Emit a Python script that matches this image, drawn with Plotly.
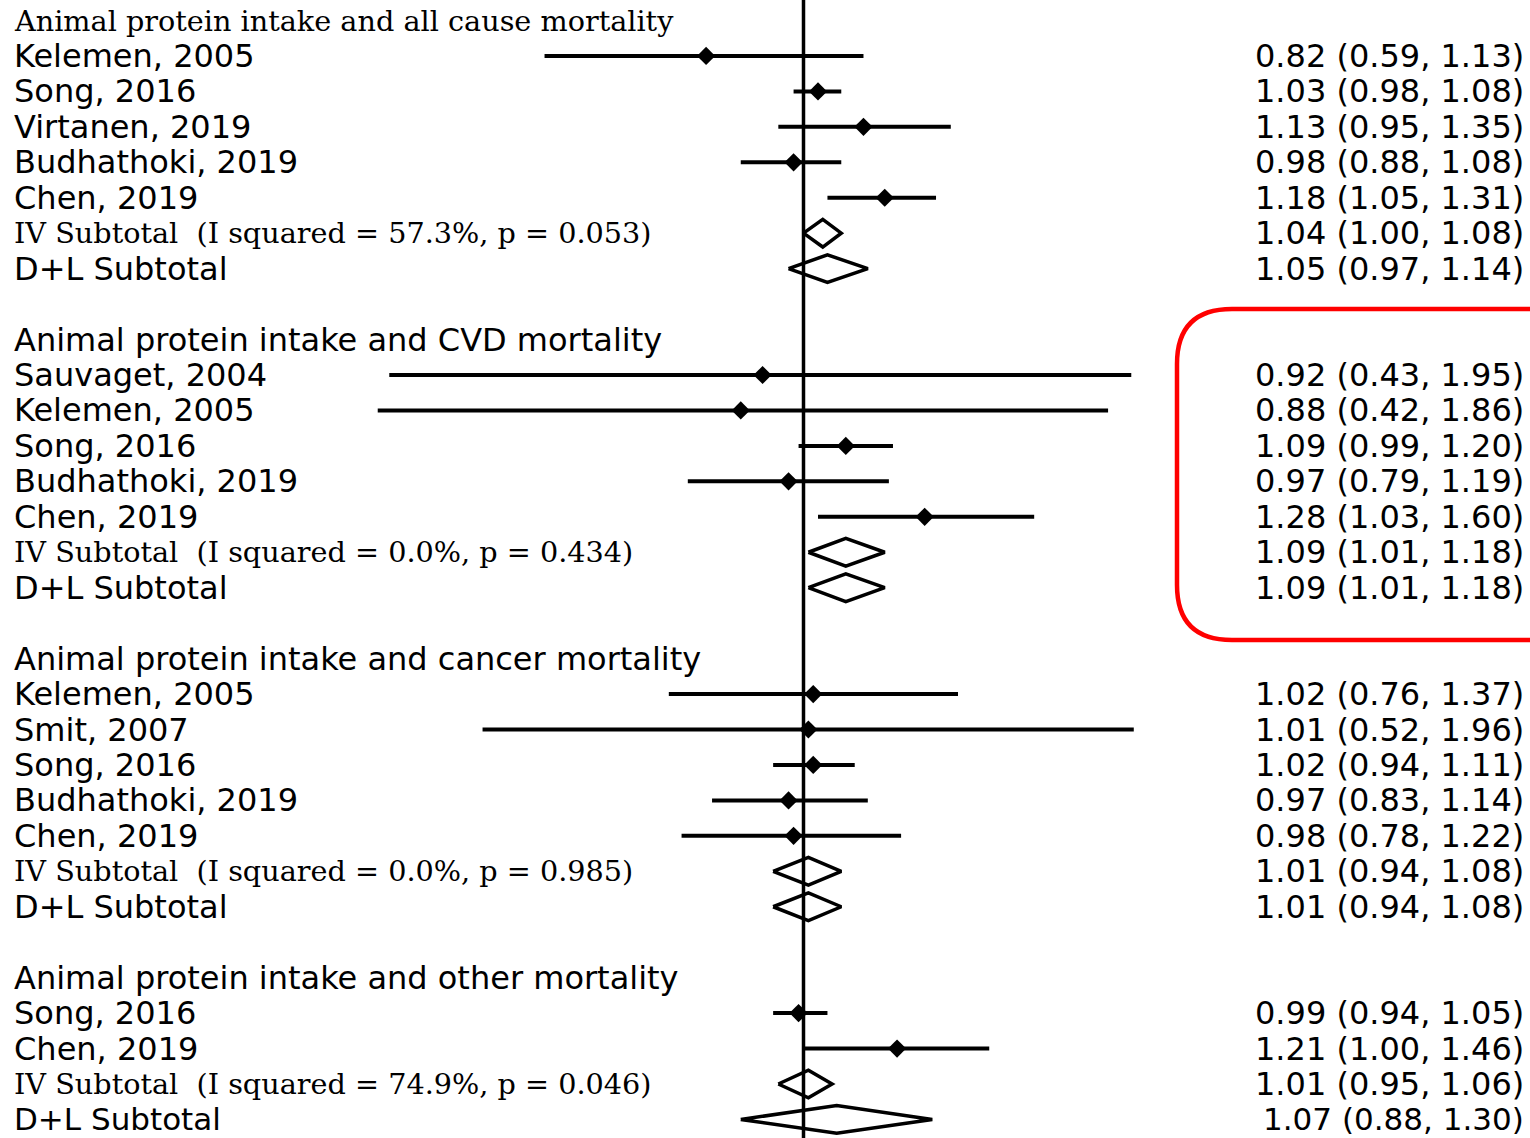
import math
import plotly.graph_objects as go

# ---------------- data ----------------
group_titles = [
    "Animal protein intake and all cause mortality",
    "Animal protein intake and CVD mortality",
    "Animal protein intake and cancer mortality",
    "Animal protein intake and other mortality",
]
title_serif = [True, False, False, False]

g1_studies = ["Kelemen, 2005", "Song, 2016", "Virtanen, 2019", "Budhathoki, 2019", "Chen, 2019"]
g1_est = [0.82, 1.03, 1.13, 0.98, 1.18]
g1_lo = [0.59, 0.98, 0.95, 0.88, 1.05]
g1_hi = [1.13, 1.08, 1.35, 1.08, 1.31]

g2_studies = ["Sauvaget, 2004", "Kelemen, 2005", "Song, 2016", "Budhathoki, 2019", "Chen, 2019"]
g2_est = [0.92, 0.88, 1.09, 0.97, 1.28]
g2_lo = [0.43, 0.42, 0.99, 0.79, 1.03]
g2_hi = [1.95, 1.86, 1.20, 1.19, 1.60]

g3_studies = ["Kelemen, 2005", "Smit, 2007", "Song, 2016", "Budhathoki, 2019", "Chen, 2019"]
g3_est = [1.02, 1.01, 1.02, 0.97, 0.98]
g3_lo = [0.76, 0.52, 0.94, 0.83, 0.78]
g3_hi = [1.37, 1.96, 1.11, 1.14, 1.22]

g4_studies = ["Song, 2016", "Chen, 2019"]
g4_est = [0.99, 1.21]
g4_lo = [0.94, 1.00]
g4_hi = [1.05, 1.46]

iv_est = [1.04, 1.09, 1.01, 1.01]
iv_lo = [1.00, 1.01, 0.94, 0.95]
iv_hi = [1.08, 1.18, 1.08, 1.06]
iv_i2 = ["57.3%", "0.0%", "0.0%", "74.9%"]
iv_p = ["0.053", "0.434", "0.985", "0.046"]

dl_est = [1.05, 1.09, 1.01, 1.07]
dl_lo = [0.97, 1.01, 0.94, 0.88]
dl_hi = [1.14, 1.18, 1.08, 1.30]

groups = [
    (g1_studies, g1_est, g1_lo, g1_hi),
    (g2_studies, g2_est, g2_lo, g2_hi),
    (g3_studies, g3_est, g3_lo, g3_hi),
    (g4_studies, g4_est, g4_lo, g4_hi),
]

# ---------------- layout constants ----------------
W, H = 1530, 1138
X_NULL_PX = 803.5        # pixel position of ratio 1.0
PX_PER_LN = 490.8        # pixels per natural-log unit
ROW0_PX = 20.5
ROW_PX = 35.45

SANS = "DejaVu Sans"
SERIF = "DejaVu Serif"
SANS_SIZE = 32
LAST_ROW_SIZE = 31
SERIF_SIZE = 28.7
LEFT_X = 12 / W
RIGHT_X = 1526 / W
DIAMOND_HALF = 0.39

fmt = lambda e, l, h: f"{e:.2f} ({l:.2f}, {h:.2f})"

fig = go.Figure()
annotations = []
n_rows = sum(len(g[0]) + 4 for g in groups) - 1

def add_text(row, txt, right=False, serif=False):
    last = row == n_rows - 1
    size = SERIF_SIZE if serif else (LAST_ROW_SIZE if last else SANS_SIZE)
    annotations.append(dict(
        x=RIGHT_X if right else LEFT_X, xref="paper",
        y=row, yref="y",
        text=txt, showarrow=False,
        xanchor="right" if right else "left", yanchor="middle",
        font=dict(family=SERIF if serif else SANS, size=size, color="black"),
    ))

ci_x, ci_y, pt_x, pt_y = [], [], [], []
dia_x, dia_y = [], []

row = 0
for gi, (names, est, lo, hi) in enumerate(groups):
    add_text(row, group_titles[gi], serif=title_serif[gi])
    row += 1
    for n, e, l, h in zip(names, est, lo, hi):
        add_text(row, n)
        add_text(row, fmt(e, l, h), right=True)
        ci_x += [l, h, None]
        ci_y += [row, row, None]
        pt_x.append(e)
        pt_y.append(row)
        row += 1
    # IV subtotal
    add_text(row, f"IV Subtotal\u00a0\u00a0(I squared = {iv_i2[gi]}, p = {iv_p[gi]})", serif=True)
    add_text(row, fmt(iv_est[gi], iv_lo[gi], iv_hi[gi]), right=True)
    dia_x += [iv_lo[gi], iv_est[gi], iv_hi[gi], iv_est[gi], iv_lo[gi], None]
    dia_y += [row, row - DIAMOND_HALF, row, row + DIAMOND_HALF, row, None]
    row += 1
    # D+L subtotal
    add_text(row, "D+L Subtotal")
    add_text(row, fmt(dl_est[gi], dl_lo[gi], dl_hi[gi]), right=True)
    dia_x += [dl_lo[gi], dl_est[gi], dl_hi[gi], dl_est[gi], dl_lo[gi], None]
    dia_y += [row, row - DIAMOND_HALF, row, row + DIAMOND_HALF, row, None]
    row += 2

fig.add_trace(go.Scatter(x=ci_x, y=ci_y, mode="lines",
                         line=dict(color="black", width=4), hoverinfo="skip"))
fig.add_trace(go.Scatter(x=pt_x, y=pt_y, mode="markers",
                         marker=dict(symbol="diamond", size=14, color="black"),
                         hoverinfo="skip"))
fig.add_trace(go.Scatter(x=dia_x, y=dia_y, mode="lines",
                         line=dict(color="black", width=3.5), hoverinfo="skip"))

# null line
fig.add_shape(type="line", xref="x", yref="paper", x0=1, x1=1, y0=0, y1=1,
              line=dict(color="black", width=3.5), layer="below")

# red rounded highlight box
L, R = 1177 / W, 1560 / W
T, B = 1 - 309 / H, 1 - 640 / H
rx, ry = 55 / W, 55 / H
path = (f"M {R},{T} L {L+rx},{T} Q {L},{T} {L},{T-ry} "
        f"L {L},{B+ry} Q {L},{B} {L+rx},{B} L {R},{B}")
fig.add_shape(type="path", xref="paper", yref="paper", path=path,
              line=dict(color="#ff0000", width=4.5))

ln10 = math.log(10)
x_lo = -X_NULL_PX / (PX_PER_LN * ln10)
x_hi = (W - X_NULL_PX) / (PX_PER_LN * ln10)
y_top = -ROW0_PX / ROW_PX
y_bot = (H - ROW0_PX) / ROW_PX

fig.update_layout(
    width=W, height=H,
    margin=dict(l=0, r=0, t=0, b=0),
    paper_bgcolor="white", plot_bgcolor="white",
    showlegend=False,
    annotations=annotations,
    xaxis=dict(type="log", range=[x_lo, x_hi], visible=False, fixedrange=True),
    yaxis=dict(range=[y_bot, y_top], visible=False, fixedrange=True),
)

fig.write_html("out.html")
